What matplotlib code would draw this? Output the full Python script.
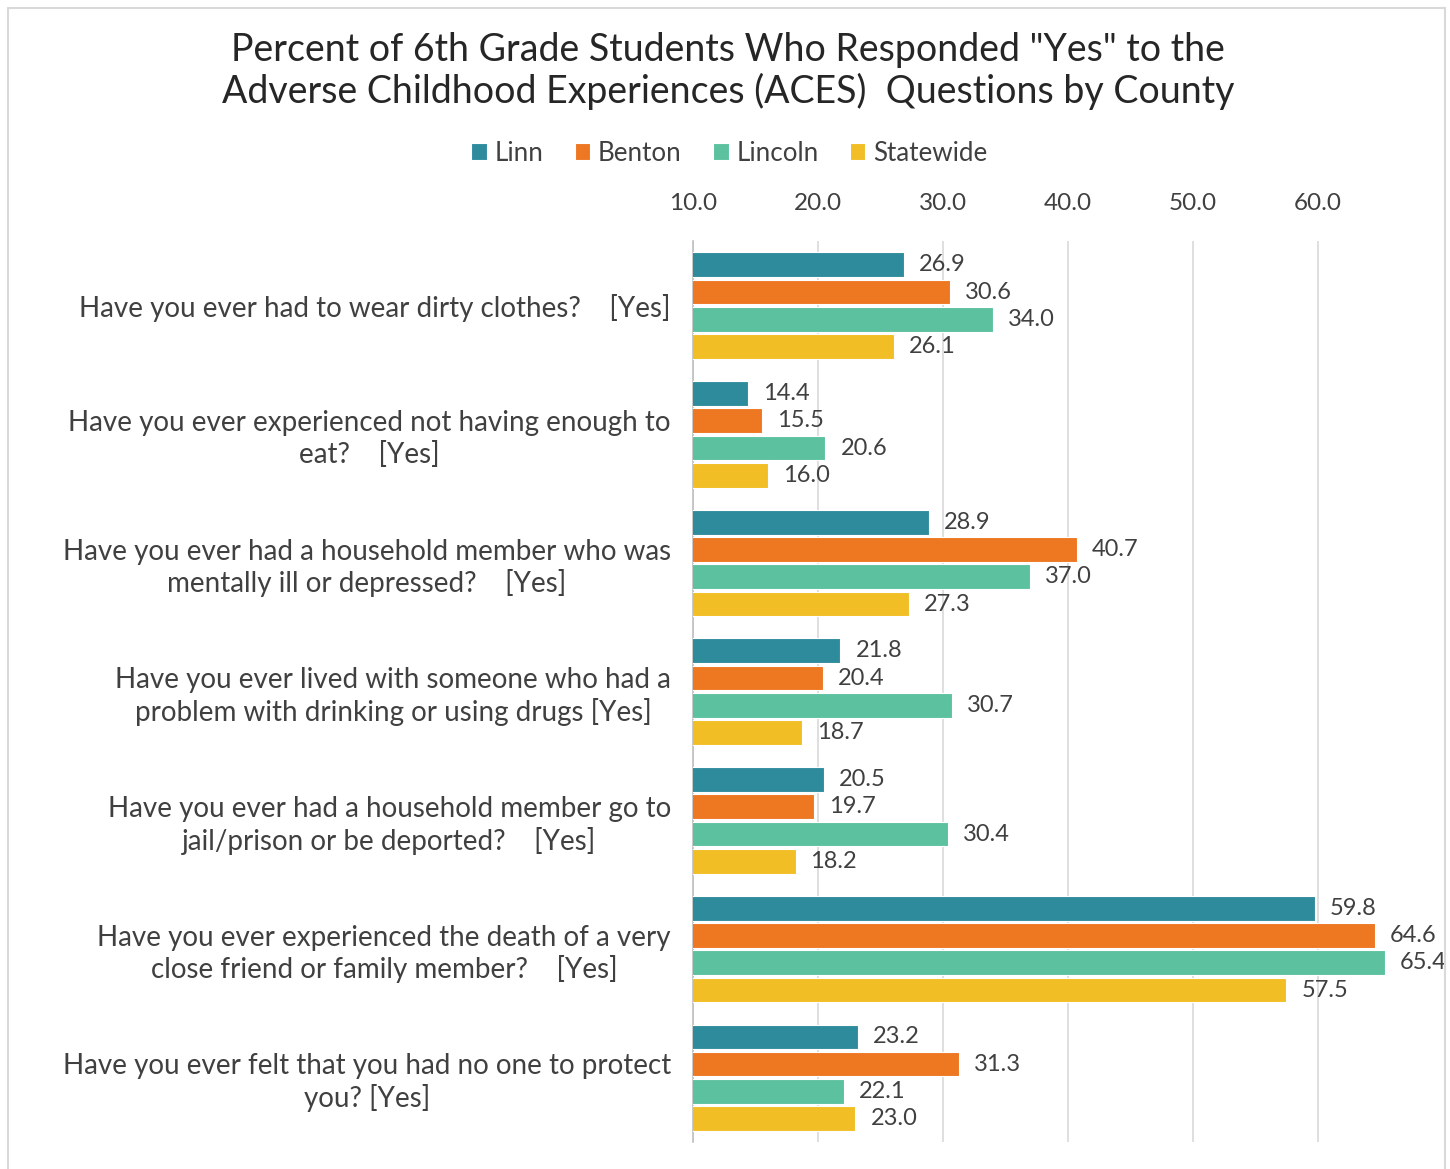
import matplotlib.pyplot as plt
from matplotlib.patches import Rectangle
import numpy as np

plt.rcParams['font.family'] = ['Lato', 'DejaVu Sans']

questions = [
    "Have you ever had to wear dirty clothes?    [Yes]",
    "Have you ever experienced not having enough to\neat?    [Yes]",
    "Have you ever had a household member who was\nmentally ill or depressed?    [Yes]",
    "Have you ever lived with someone who had a\nproblem with drinking or using drugs [Yes]",
    "Have you ever had a household member go to\njail/prison or be deported?    [Yes]",
    "Have you ever experienced the death of a very\nclose friend or family member?    [Yes]",
    "Have you ever felt that you had no one to protect\nyou? [Yes]",
]
series = ["Linn", "Benton", "Lincoln", "Statewide"]
linn = [26.9, 14.4, 28.9, 21.8, 20.5, 59.8, 23.2]
benton = [30.6, 15.5, 40.7, 20.4, 19.7, 64.6, 31.3]
lincoln = [34.0, 20.6, 37.0, 30.7, 30.4, 65.4, 22.1]
statewide = [26.1, 16.0, 27.3, 18.7, 18.2, 57.5, 23.0]
ticks = [10, 20, 30, 40, 50, 60]

colors = ['#2E8B9C', '#EE7722', '#5CC19F', '#F2BE25']

fig = plt.figure(figsize=(14.5, 11.69), dpi=100)
ax = fig.add_axes([0.478, 0.023, 0.4875, 0.7705])

y = np.arange(len(questions))
step = 0.212
h = 0.192
for i, (name, vals) in enumerate(zip(series, [linn, benton, lincoln, statewide])):
    pos = y + (i - 1.5) * step
    ax.barh(pos, vals, height=h, color=colors[i], edgecolor='white', linewidth=0.8,
            label=name, zorder=3)
    for p, v in zip(pos, vals):
        ax.text(v + 1.2, p, f"{v:.1f}", va='center', ha='left', fontsize=17,
                color='#404040', zorder=4)

ax.set_xlim(10, 66.6)
ax.set_ylim(len(questions) - 0.5, -0.5)
ax.set_xticks(ticks)
ax.set_xticklabels([f"{t:.1f}" for t in ticks], fontsize=17.5, color='#404040')
ax.xaxis.tick_top()
ax.tick_params(axis='x', length=0, pad=20)
ax.tick_params(axis='y', length=0, pad=16)
ax.set_yticks(y)
ax.set_yticklabels(questions, fontsize=20, color='#404040', multialignment='center')
ax.grid(axis='x', color='#D9D9D9', linewidth=1.2, zorder=0)
for s in ['top', 'right', 'bottom']:
    ax.spines[s].set_visible(False)
ax.spines['left'].set_color('#BFBFBF')
ax.spines['left'].set_linewidth(1.2)

fig.text(0.502, 0.939, 'Percent of 6th Grade Students Who Responded "Yes" to the\n'
         'Adverse Childhood Experiences (ACES)  Questions by County',
         ha='center', va='center', fontsize=27, color='#262626', linespacing=1.15)

handles, labels = ax.get_legend_handles_labels()
fig.legend(handles, labels, loc='center', bbox_to_anchor=(0.503, 0.869), ncol=4,
           frameon=False, fontsize=18.7, handlelength=0.6, handleheight=0.6,
           handletextpad=0.3, columnspacing=1.2, labelcolor='#404040')

fig.patches.append(Rectangle((8 / 1450, -0.01), 1437 / 1450, 1 - 8 / 1169 + 0.01,
                             transform=fig.transFigure, fill=False,
                             edgecolor='#D9D9D9', linewidth=1.5))

fig.savefig('out.png', dpi=100, facecolor='white')
